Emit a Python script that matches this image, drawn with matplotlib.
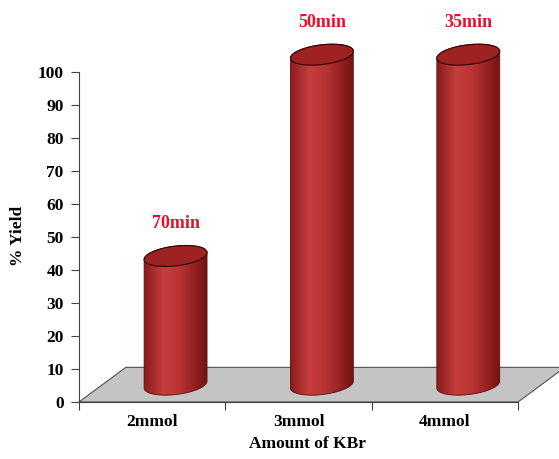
import matplotlib.pyplot as plt
import numpy as np
from matplotlib.patches import Polygon
from matplotlib.colors import LinearSegmentedColormap

categories = ['2mmol', '3mmol', '4mmol']
yields = [39, 100, 100]
times = ['70min', '50min', '35min']

plt.rcParams['font.family'] = ['Liberation Serif', 'DejaVu Serif']
plt.rcParams['font.weight'] = 'bold'

fig = plt.figure(figsize=(5.59, 4.59), dpi=100)
ax = fig.add_axes([79 / 559, 57 / 459, 439 / 559, 396 / 459])

# depth of the fake 3d floor, in data units
dx, dy = 0.32, 10.5
a, b, s = 0.215, 3.0, 1.05   # cylinder half width, ellipse half height, tilt

floor = Polygon([(-0.5, 0), (2.5, 0), (2.5 + dx, dy), (-0.5 + dx, dy)],
                closed=True, facecolor='#c4c4c4', edgecolor='#505050',
                lw=0.8, clip_on=False, zorder=1)
ax.add_patch(floor)

shade = LinearSegmentedColormap.from_list(
    'cyl', [(0, '#8a1b1b'), (0.3, '#c63d3d'), (0.55, '#bb3434'), (1, '#761313')])
grad = np.linspace(0, 1, 200).reshape(1, -1)

t_lo = np.linspace(np.pi, 2 * np.pi, 60)
t_hi = np.linspace(0, np.pi, 60)
t_all = np.linspace(0, 2 * np.pi, 120)

for i, (v, lab) in enumerate(zip(yields, times)):
    cx = i + dx / 2
    y0 = dy / 2
    y1 = v + dy / 2
    lo = np.column_stack([cx + a * np.cos(t_lo), y0 + b * np.sin(t_lo) + s * np.cos(t_lo)])
    hi = np.column_stack([cx + a * np.cos(t_hi), y1 + b * np.sin(t_hi) + s * np.cos(t_hi)])
    body = Polygon(np.vstack([lo, hi]), closed=True, facecolor='none',
                   edgecolor='#5a0d0d', lw=0.6, zorder=3)
    ax.add_patch(body)
    im = ax.imshow(grad, cmap=shade, aspect='auto', zorder=2,
                   extent=(cx - a, cx + a, y0 - b - s - 1, y1 + b + s + 1))
    im.set_clip_path(body)
    cap = np.column_stack([cx + a * np.cos(t_all), y1 + b * np.sin(t_all) + s * np.cos(t_all)])
    ax.add_patch(Polygon(cap, closed=True, facecolor='#9e2222',
                         edgecolor='#2a0505', lw=0.8, zorder=4))
    ax.text(cx, v + 15, lab, ha='center', va='center', color='#e3122a',
            fontsize=13, fontweight='bold')

ax.set_xlim(-0.5, 2.5)
ax.set_ylim(0, 120)

for side in ['top', 'right']:
    ax.spines[side].set_visible(False)
ax.spines['left'].set_bounds(0, 100)
ax.spines['left'].set_color('#404040')
ax.spines['bottom'].set_color('#404040')

ax.set_yticks(np.arange(0, 101, 10))
ax.tick_params(axis='y', length=6, width=0.8, color='#404040', pad=5, labelsize=12.5)

ax.set_xticks([-0.5, 0.5, 1.5, 2.5])
ax.set_xticklabels([])
ax.tick_params(axis='x', which='major', length=6, width=0.8, color='#404040')
ax.set_xticks([0, 1, 2], minor=True)
ax.set_xticklabels(categories, minor=True)
ax.tick_params(axis='x', which='minor', length=0, pad=9, labelsize=12.5)

ax.set_xlabel('Amount of KBr', fontsize=12.5, fontweight='bold')
ax.xaxis.set_label_coords(0.52, -0.085)
ax.set_ylabel('% Yield', fontsize=12.5, fontweight='bold')
ax.yaxis.set_label_coords(-0.12, 0.42)

fig.savefig('out.png', dpi=100)
